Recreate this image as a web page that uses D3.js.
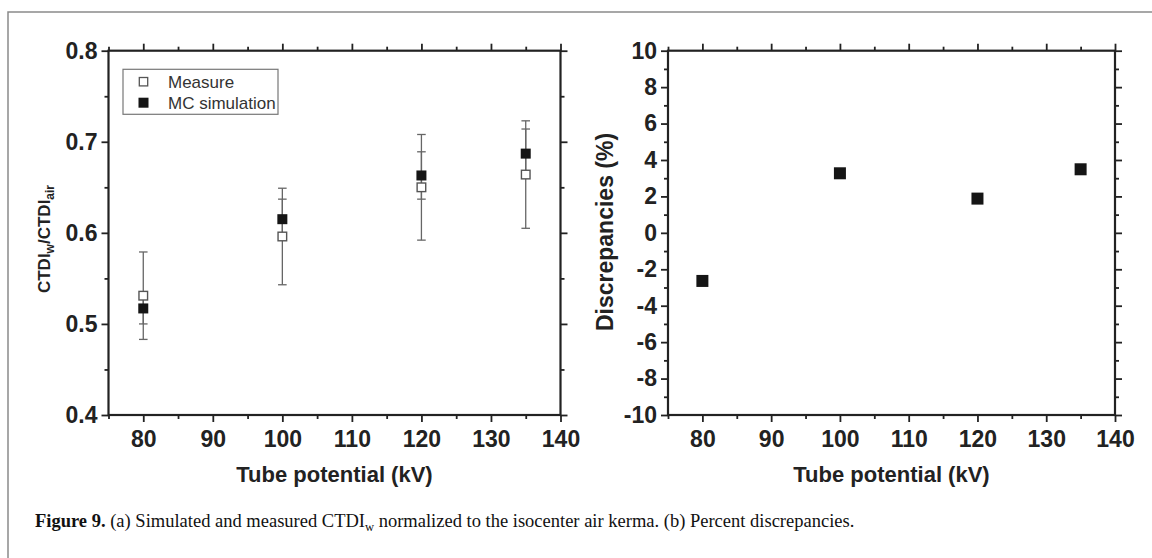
<!DOCTYPE html>
<html>
<head>
<meta charset="utf-8">
<script src="https://cdn.jsdelivr.net/npm/d3@7/dist/d3.min.js"></script>
<style>
  html, body { margin: 0; padding: 0; background: #fff; }
  svg { display: block; }
  .tick text { font-family: "Liberation Sans", Arial, sans-serif; font-weight: bold; fill: #222; }
</style>
</head>
<body>
<svg id="fig" width="1152" height="558"></svg>
<script>
// Tube potentials (kV)
const kv = [80, 100, 120, 135];
// Panel (a): CTDIw / CTDIair
const measured = [0.531, 0.596, 0.650, 0.664];
const measuredErr = [0.048, 0.053, 0.058, 0.059];
const simulated = [0.517, 0.615, 0.663, 0.687];
const simulatedErr = [0.017, 0.022, 0.026, 0.027];
// Panel (b): percent discrepancies
const discrepancy = [-2.64, 3.27, 1.88, 3.49];

// Axis ticks
const xMajor = [80, 90, 100, 110, 120, 130, 140];
const xMinor = [75, 85, 95, 105, 115, 125, 135];
const yMajorA = [0.4, 0.5, 0.6, 0.7, 0.8];
const yMinorA = [0.45, 0.55, 0.65, 0.75];
const yMajorB = [-10, -8, -6, -4, -2, 0, 2, 4, 6, 8, 10];
const yMinorB = [-9, -7, -5, -3, -1, 1, 3, 5, 7, 9];

const svg = d3.select("#fig");
const axisColor = "#222";
const TICK_FONT = 23;

// Figure frame (top and left rule)
svg.append("path")
  .attr("d", "M8,558V12H1152")
  .attr("fill", "none")
  .attr("stroke", "#8a8a8a")
  .attr("stroke-width", 1.5);

function drawFrame(g, x, y, yMajor, yMinor, yFmt) {
  const [x0, x1] = x.range();
  const [y0, y1] = y.range();
  const MAJ = 7, MIN = 4;

  const styleAxis = sel => {
    sel.select(".domain").remove();
    sel.selectAll(".tick line").attr("stroke", axisColor).attr("stroke-width", 1.8);
  };

  // bottom
  g.append("g").attr("transform", `translate(0,${y0})`)
    .call(d3.axisBottom(x).tickValues(xMajor).tickSize(MAJ).tickPadding(9).tickFormat(d => String(d)))
    .call(styleAxis)
    .call(s => s.selectAll(".tick text").attr("font-size", TICK_FONT));
  g.append("g").attr("transform", `translate(0,${y0})`)
    .call(d3.axisBottom(x).tickValues(xMinor).tickSize(MIN).tickFormat(""))
    .call(styleAxis);
  // top
  g.append("g").attr("transform", `translate(0,${y1})`)
    .call(d3.axisTop(x).tickValues(xMajor).tickSize(MAJ).tickFormat(""))
    .call(styleAxis);
  g.append("g").attr("transform", `translate(0,${y1})`)
    .call(d3.axisTop(x).tickValues(xMinor).tickSize(MIN).tickFormat(""))
    .call(styleAxis);
  // left
  g.append("g").attr("transform", `translate(${x0},0)`)
    .call(d3.axisLeft(y).tickValues(yMajor).tickSize(MAJ).tickPadding(4).tickFormat(yFmt))
    .call(styleAxis)
    .call(s => s.selectAll(".tick text").attr("font-size", TICK_FONT));
  g.append("g").attr("transform", `translate(${x0},0)`)
    .call(d3.axisLeft(y).tickValues(yMinor).tickSize(MIN).tickFormat(""))
    .call(styleAxis);
  // right
  g.append("g").attr("transform", `translate(${x1},0)`)
    .call(d3.axisRight(y).tickValues(yMajor).tickSize(MAJ).tickFormat(""))
    .call(styleAxis);
  g.append("g").attr("transform", `translate(${x1},0)`)
    .call(d3.axisRight(y).tickValues(yMinor).tickSize(MIN).tickFormat(""))
    .call(styleAxis);

  // plot box
  g.append("rect")
    .attr("x", x0).attr("y", y1)
    .attr("width", x1 - x0).attr("height", y0 - y1)
    .attr("fill", "none").attr("stroke", axisColor).attr("stroke-width", 2.2);
}

function xTitle(g, x, text) {
  const [x0, x1] = x.range();
  g.append("text")
    .attr("x", (x0 + x1) / 2).attr("y", 482)
    .attr("text-anchor", "middle")
    .attr("font-family", "Liberation Sans, Arial, sans-serif")
    .attr("font-weight", "bold").attr("font-size", 22).attr("fill", "#222")
    .text(text);
}

// ---------- Panel (a) ----------
const xa = d3.scaleLinear().domain([75, 140]).range([108.5, 560.5]);
const ya = d3.scaleLinear().domain([0.4, 0.8]).range([415, 50.7]);
const ga = svg.append("g");

// error bars
function errorBars(g, x, y, vals, errs) {
  const cap = 4.3;
  const eb = g.append("g").attr("stroke", "#666").attr("stroke-width", 1.3).attr("fill", "none");
  kv.forEach((k, i) => {
    const cx = x(k), top = y(vals[i] + errs[i]), bot = y(vals[i] - errs[i]);
    eb.append("line").attr("x1", cx).attr("x2", cx).attr("y1", top).attr("y2", bot);
    eb.append("line").attr("x1", cx - cap).attr("x2", cx + cap).attr("y1", top).attr("y2", top);
    eb.append("line").attr("x1", cx - cap).attr("x2", cx + cap).attr("y1", bot).attr("y2", bot);
  });
}
errorBars(ga, xa, ya, measured, measuredErr);
errorBars(ga, xa, ya, simulated, simulatedErr);

const sA = 10;
ga.append("g").selectAll("rect")
  .data(kv.map((k, i) => [k, measured[i]]))
  .join("rect")
  .attr("x", d => xa(d[0]) - sA / 2 + 0.7).attr("y", d => ya(d[1]) - sA / 2 + 0.7)
  .attr("width", sA - 1.4).attr("height", sA - 1.4)
  .attr("fill", "#fff").attr("stroke", "#555").attr("stroke-width", 1.4);
ga.append("g").selectAll("rect")
  .data(kv.map((k, i) => [k, simulated[i]]))
  .join("rect")
  .attr("x", d => xa(d[0]) - sA / 2).attr("y", d => ya(d[1]) - sA / 2)
  .attr("width", sA).attr("height", sA)
  .attr("fill", "#151515");

drawFrame(ga, xa, ya, yMajorA, yMinorA, d3.format(".1f"));
xTitle(ga, xa, "Tube potential (kV)");

// y title with subscripts
const yta = ga.append("text")
  .attr("transform", "translate(50,239) rotate(-90)")
  .attr("text-anchor", "middle")
  .attr("font-family", "Liberation Sans, Arial, sans-serif")
  .attr("font-weight", "bold").attr("font-size", 17).attr("fill", "#222");
yta.append("tspan").text("CTDI");
yta.append("tspan").attr("font-size", 12).attr("dy", 4).text("w");
yta.append("tspan").attr("dy", -4).text("/CTDI");
yta.append("tspan").attr("font-size", 12).attr("dy", 4).text("air");

// legend
const lg = ga.append("g");
lg.append("rect").attr("x", 123).attr("y", 69.3).attr("width", 155).attr("height", 45)
  .attr("fill", "#fff").attr("stroke", "#777").attr("stroke-width", 1.2);
lg.append("rect").attr("x", 139.3).attr("y", 77.5).attr("width", 8.4).attr("height", 8.4)
  .attr("fill", "#fff").attr("stroke", "#555").attr("stroke-width", 1.3);
lg.append("rect").attr("x", 138.5).attr("y", 97.7).attr("width", 10).attr("height", 10)
  .attr("fill", "#151515");
lg.append("text").attr("x", 168).attr("y", 87.8)
  .attr("font-family", "Liberation Sans, Arial, sans-serif").attr("font-size", 17).attr("fill", "#333")
  .text("Measure");
lg.append("text").attr("x", 168).attr("y", 108.8)
  .attr("font-family", "Liberation Sans, Arial, sans-serif").attr("font-size", 17).attr("fill", "#333")
  .text("MC simulation");

// ---------- Panel (b) ----------
const xb = d3.scaleLinear().domain([75, 140]).range([668, 1115]);
const yb = d3.scaleLinear().domain([-10, 10]).range([415, 50.7]);
const gb = svg.append("g");

const sB = 12;
gb.append("g").selectAll("rect")
  .data(kv.map((k, i) => [k, discrepancy[i]]))
  .join("rect")
  .attr("x", d => xb(d[0]) - sB / 2).attr("y", d => yb(d[1]) - sB / 2)
  .attr("width", sB).attr("height", sB)
  .attr("fill", "#151515");

drawFrame(gb, xb, yb, yMajorB, yMinorB, d => String(d));
xTitle(gb, xb, "Tube potential (kV)");

gb.append("text")
  .attr("transform", "translate(613,232) rotate(-90)")
  .attr("text-anchor", "middle")
  .attr("font-family", "Liberation Sans, Arial, sans-serif")
  .attr("font-weight", "bold").attr("font-size", 23).attr("fill", "#222")
  .text("Discrepancies (%)");

// ---------- Caption ----------
const cap = svg.append("text")
  .attr("x", 35).attr("y", 527)
  .attr("font-family", "Liberation Serif, Times New Roman, serif")
  .attr("font-size", 18.5).attr("fill", "#111");
cap.append("tspan").attr("font-weight", "bold").text("Figure 9.");
cap.append("tspan").text(" (a) Simulated and measured CTDI");
cap.append("tspan").attr("font-size", 12.5).attr("dy", 3.5).text("w");
cap.append("tspan").attr("dy", -3.5).text(" normalized to the isocenter air kerma. (b) Percent discrepancies.");
</script>
</body>
</html>
